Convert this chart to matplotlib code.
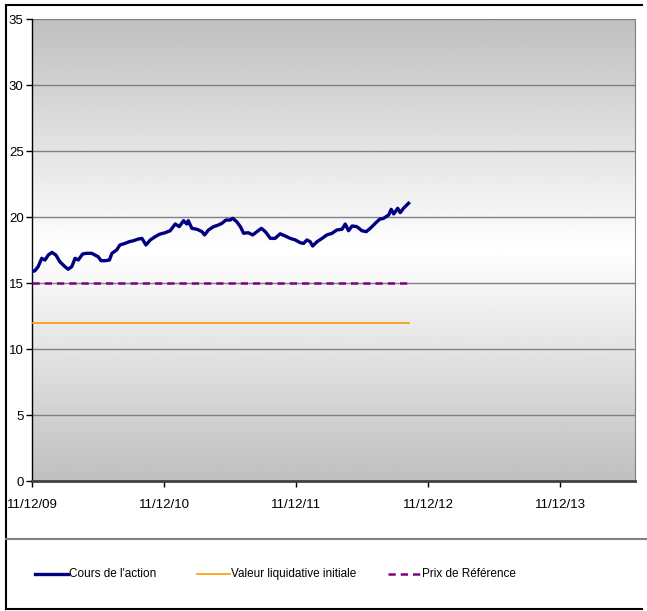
"""Cours de l'action vs valeur liquidative initiale et prix de référence."""
import numpy as np
import pandas as pd
import matplotlib
matplotlib.use("Agg")
import matplotlib.pyplot as plt
import matplotlib.dates as mdates
from matplotlib.lines import Line2D

plt.rcParams['font.family'] = ['Liberation Sans Narrow', 'Liberation Sans', 'DejaVu Sans']

START = "2009-12-11"
# days after START and share price
day_offsets = [0, 8, 17, 27, 36, 45, 55, 66, 77, 91, 100, 110, 119, 128, 140, 151,
               165, 174, 183, 191, 202, 214, 221, 234, 243, 257, 269, 280, 294, 304,
               315, 327, 340, 352, 368, 382, 396, 407, 419, 428, 432, 442, 456, 470,
               477, 488, 502, 515, 525, 536, 548, 555, 566, 576, 585, 598, 610, 622,
               634, 645, 659, 672, 686, 700, 714, 728, 742, 751, 760, 769, 776, 788,
               802, 815, 829, 843, 857, 866, 875, 885, 898, 912, 924, 935, 949, 961,
               972, 986, 993, 1000, 1011, 1018, 1027, 1041]
cours = [15.86, 15.93, 16.24, 16.87, 16.74, 17.12, 17.32, 17.12, 16.61, 16.24, 16.04,
         16.24, 16.87, 16.74, 17.2, 17.25, 17.25, 17.12, 16.99, 16.69, 16.69, 16.74,
         17.25, 17.5, 17.88, 18.0, 18.13, 18.2, 18.33, 18.38, 17.88, 18.26, 18.5,
         18.69, 18.81, 18.96, 19.47, 19.27, 19.72, 19.47, 19.72, 19.14, 19.07, 18.89,
         18.64, 19.02, 19.27, 19.39, 19.52, 19.77, 19.77, 19.9, 19.64, 19.27, 18.77,
         18.81, 18.64, 18.89, 19.14, 18.89, 18.38, 18.38, 18.73, 18.56, 18.38, 18.26,
         18.05, 18.0, 18.26, 18.13, 17.8, 18.13, 18.38, 18.64, 18.76, 19.02, 19.07,
         19.47, 18.96, 19.32, 19.27, 18.96, 18.89, 19.14, 19.52, 19.83, 19.9, 20.15,
         20.58, 20.23, 20.66, 20.33, 20.66, 21.04]
valeur_liquidative = 12.0
prix_reference = 15.0
tick_dates = ["2009-12-11", "2010-12-11", "2011-12-11", "2012-12-11", "2013-12-11"]
x_end = "2014-07-05"

dates = pd.Timestamp(START) + pd.to_timedelta(day_offsets, unit="D")
DASH = (2.9, 2.0)

fig = plt.figure(figsize=(6.47, 6.11), dpi=100)
ax = fig.add_axes([32/647, 130/611, 603/647, 462/611])

# vertical gradient: grey at top and bottom, white in the middle
t = np.linspace(0, 1, 256)
shade = 0.75 + 0.25 * (1 - np.abs(t - 0.5) * 2)
grad = np.repeat(shade[:, None], 2, axis=1)
ax.imshow(grad, extent=[0, 1, 0, 1], transform=ax.transAxes, aspect="auto",
          cmap="gray", vmin=0, vmax=1, zorder=0, interpolation="bilinear")

for v in range(5, 40, 5):
    ax.axhline(v, color="#808080", lw=1, zorder=1)

ax.plot(dates, cours, color="#000080", lw=2.4, zorder=4)
ax.plot([dates[0], dates[-1]], [valeur_liquidative] * 2, color="#FF9900", lw=1.2, zorder=3)
ax.plot([dates[0], dates[-1]], [prix_reference] * 2, color="#800080", lw=1.8,
        dashes=DASH, zorder=3)

ax.set_xlim(pd.Timestamp(START), pd.Timestamp(x_end))
ax.set_ylim(0, 35)
ax.set_yticks(range(0, 40, 5))
ax.set_xticks(pd.to_datetime(tick_dates))
ax.xaxis.set_major_formatter(mdates.DateFormatter("%d/%m/%y"))
ax.tick_params(axis="both", direction="out", length=4, width=1, labelsize=9.5, colors="black")
ax.tick_params(axis="x", pad=9)
ax.tick_params(axis="y", pad=2)

ax.spines["top"].set_visible(False)
ax.spines["right"].set_color("#808080")
ax.spines["left"].set_color("black")
ax.spines["left"].set_linewidth(1)
ax.spines["bottom"].set_color("#404040")
ax.spines["bottom"].set_linewidth(2)

# frame around the whole chart and the legend separator
fig.add_artist(Line2D([6/647, 6/647], [1 - 5/611, 1 - 609/611], color="black", lw=1.5,
                      transform=fig.transFigure))
fig.add_artist(Line2D([6/647, 642/647], [1 - 5/611] * 2, color="black", lw=1.5,
                      transform=fig.transFigure))
fig.add_artist(Line2D([6/647, 642/647], [1 - 609/611] * 2, color="black", lw=1.5,
                      transform=fig.transFigure))
fig.add_artist(Line2D([6/647, 1.0], [1 - 539/611] * 2, color="#808080", lw=1.5,
                      transform=fig.transFigure))

# legend, laid out by hand like the original
legend_items = [
    ("Cours de l'action", "#000080", 2.4, None, 35),
    ("Valeur liquidative initiale", "#FF9900", 1.2, None, 197),
    ("Prix de Référence", "#800080", 1.8, DASH, 388),
]
y = 1 - 574/611
for lab, col, lw, dash, x0 in legend_items:
    ln = Line2D([x0/647, (x0 + 33)/647], [y, y], color=col, lw=lw, transform=fig.transFigure)
    if dash:
        ln.set_dashes(dash)
    fig.add_artist(ln)
    fig.text((x0 + 34)/647, y, lab, fontsize=8.5, va="center", ha="left")

fig.savefig("out.png", dpi=100)
